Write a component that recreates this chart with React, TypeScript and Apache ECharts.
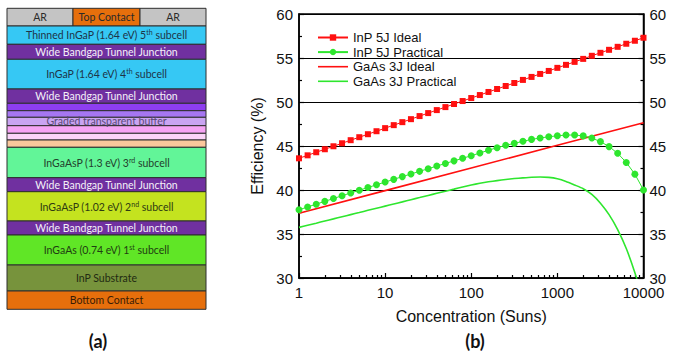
import React, { useEffect, useRef } from 'react';
import * as echarts from 'echarts';

// ---------- Data (panel b) ----------
const concentration = [
  1, 1.259, 1.585, 1.995, 2.512, 3.162, 3.981, 5.012, 6.31, 7.943,
  10, 12.59, 15.85, 19.95, 25.12, 31.62, 39.81, 50.12, 63.1, 79.43,
  100, 125.9, 158.5, 199.5, 251.2, 316.2, 398.1, 501.2, 631, 794.3,
  1000, 1259, 1585, 1995, 2512, 3162, 3981, 5012, 6310, 7943, 10000,
];
const inpIdeal = [
  43.6, 43.94, 44.29, 44.63, 44.97, 45.31, 45.66, 46.0, 46.34, 46.68,
  47.03, 47.37, 47.71, 48.05, 48.4, 48.74, 49.08, 49.42, 49.77, 50.11,
  50.45, 50.79, 51.14, 51.48, 51.82, 52.16, 52.51, 52.85, 53.19, 53.53,
  53.88, 54.22, 54.56, 54.9, 55.25, 55.59, 55.93, 56.27, 56.62, 56.96, 57.3,
];
const inpPractical = [
  37.75, 38.07, 38.39, 38.71, 39.03, 39.35, 39.66, 39.97, 40.28, 40.59,
  40.9, 41.21, 41.52, 41.82, 42.12, 42.42, 42.72, 43.02, 43.31, 43.6,
  43.9, 44.2, 44.52, 44.81, 45.08, 45.3, 45.53, 45.75, 45.91, 46.05,
  46.16, 46.24, 46.25, 46.15, 45.9, 45.5, 44.93, 44.17, 43.13, 41.8, 40.0,
];
const gaasIdealX = [1, 10, 100, 1000, 10000];
const gaasIdeal = [37.35, 39.93, 42.5, 45.08, 47.65];
const gaasPractical = [
  35.75, 35.99, 36.23, 36.48, 36.72, 36.96, 37.2, 37.44, 37.69, 37.93,
  38.17, 38.41, 38.65, 38.9, 39.14, 39.38, 39.62, 39.86, 40.1, 40.35,
  40.57, 40.76, 40.93, 41.07, 41.2, 41.3, 41.38, 41.45, 41.48, 41.43,
  41.27, 40.97, 40.57, 40.15, 39.5, 38.5, 37.2, 35.5, 33.35, 30.6, 27.4,
];
const seriesNames = ['InP 5J Ideal', 'InP 5J Practical', 'GaAs 3J Ideal', 'GaAs 3J Practical'];
const decades = [1, 10, 100, 1000];
const minorMultipliers = [2, 3, 4, 5, 6, 7, 8, 9];

// ---------- Labels (panel a) ----------
const arRowLabels = ['AR', 'Top Contact', 'AR'];
const layerTexts = [
  ['Thinned InGaP (1.64 eV) 5', 'th', ' subcell'],
  ['Wide Bandgap Tunnel Junction'],
  ['InGaP (1.64 eV) 4', 'th', ' subcell'],
  ['Wide Bandgap Tunnel Junction'],
  [''], [''], [''], [''], [''], [''],
  ['InGaAsP (1.3 eV) 3', 'rd', ' subcell'],
  ['Wide Bandgap Tunnel Junction'],
  ['InGaAsP (1.02 eV) 2', 'nd', ' subcell'],
  ['Wide Bandgap Tunnel Junction'],
  ['InGaAs (0.74 eV) 1', 'st', ' subcell'],
  ['InP Substrate'],
  ['Bottom Contact'],
];
const bufferLabel = 'Graded transparent buffer';
const panelLabels = ['(a)', '(b)'];

// layout / styles for panel a (not data)
const PURPLE = '#7030a0';
const CYAN = '#36c8f4';
const layerLayout = [
  { y0: 26, y1: 44.3, fill: CYAN, color: '#1e3448' },
  { y0: 44.3, y1: 59.3, fill: PURPLE, color: '#f4f0f8' },
  { y0: 59.3, y1: 89, fill: CYAN, color: '#1e3448' },
  { y0: 89, y1: 103.3, fill: PURPLE, color: '#f4f0f8' },
  { y0: 103.3, y1: 110.7, fill: '#8e3ef0', color: '#333' },
  { y0: 110.7, y1: 117.3, fill: '#a676f2', color: '#333' },
  { y0: 117.3, y1: 125.7, fill: '#caa4f2', color: '#333' },
  { y0: 125.7, y1: 133.3, fill: '#f6a4f4', color: '#333' },
  { y0: 133.3, y1: 140, fill: '#fbd4f8', color: '#333' },
  { y0: 140, y1: 147.3, fill: '#fbc89c', color: '#333' },
  { y0: 147.3, y1: 177.7, fill: '#62f598', color: '#23402c' },
  { y0: 177.7, y1: 191.7, fill: PURPLE, color: '#f4f0f8' },
  { y0: 191.7, y1: 221, fill: '#c4e31f', color: '#2e3a12' },
  { y0: 221, y1: 235, fill: PURPLE, color: '#f4f0f8' },
  { y0: 235, y1: 265, fill: '#60e626', color: '#1f3d12' },
  { y0: 265, y1: 291, fill: '#77933c', color: '#222a12' },
  { y0: 291, y1: 309.3, fill: '#e66f0c', color: '#3a1c05' },
];

const BOX_L = 7;
const BOX_R = 206;
const PANEL_FONT = 'Lato, "Open Sans", sans-serif';

function buildPanelA(): any[] {
  const els: any[] = [];
  const cx = (BOX_L + BOX_R) / 2;
  const stroke = '#2e2e2e';
  const arCells = [
    { x0: BOX_L, x1: 73, fill: '#c4c4c4' },
    { x0: 73, x1: 140, fill: '#e66f0c' },
    { x0: 140, x1: BOX_R, fill: '#c4c4c4' },
  ];
  arCells.forEach((c, i) => {
    els.push({
      type: 'rect', z: 10,
      shape: { x: c.x0, y: 8.3, width: c.x1 - c.x0, height: 26 - 8.3 },
      style: { fill: c.fill, stroke, lineWidth: 1 },
    });
    els.push({
      type: 'text', z: 12,
      style: {
        text: arRowLabels[i], x: (c.x0 + c.x1) / 2, y: 17.4,
        align: 'center', verticalAlign: 'middle', textAlign: 'center', textVerticalAlign: 'middle',
        fill: '#2a2a2a', fontSize: 10.5, fontFamily: PANEL_FONT,
      },
    });
  });
  layerLayout.forEach((l, i) => {
    els.push({
      type: 'rect', z: 10,
      shape: { x: BOX_L, y: l.y0, width: BOX_R - BOX_L, height: l.y1 - l.y0 },
      style: { fill: l.fill, stroke, lineWidth: 1 },
    });
    const t = layerTexts[i];
    if (!t[0]) return;
    let text: string;
    if (t.length === 3) text = `{a|${t[0]}}{s|${t[1]}}{a|${t[2]}}`;
    else text = `{a|${t[0]}}`;
    els.push({
      type: 'text', z: 12,
      style: {
        text, x: cx, y: (l.y0 + l.y1) / 2 + 0.3,
        align: 'center', verticalAlign: 'middle', textAlign: 'center', textVerticalAlign: 'middle',
        fill: l.color, fontSize: 10.5, fontFamily: PANEL_FONT,
        rich: {
          a: { fill: l.color, fontSize: 10.5, fontFamily: PANEL_FONT, lineHeight: 13 },
          s: { fill: l.color, fontSize: 7, fontFamily: PANEL_FONT, lineHeight: 8, verticalAlign: 'top' },
        },
      },
    });
  });
  els.push({
    type: 'text', z: 12,
    style: {
      text: bufferLabel, x: cx, y: 120.8,
      align: 'center', verticalAlign: 'middle', textAlign: 'center', textVerticalAlign: 'middle',
      fill: '#5a4a78', fontSize: 10.5, fontFamily: PANEL_FONT,
    },
  });
  els.push({
    type: 'text', z: 12,
    style: {
      text: panelLabels[0], x: 98, y: 340.5,
      align: 'center', verticalAlign: 'middle', textAlign: 'center', textVerticalAlign: 'middle',
      fill: '#111', fontSize: 18, fontWeight: 'bold', fontFamily: PANEL_FONT,
    },
  });
  els.push({
    type: 'text', z: 12,
    style: {
      text: panelLabels[1], x: 475, y: 340.5,
      align: 'center', verticalAlign: 'middle', textAlign: 'center', textVerticalAlign: 'middle',
      fill: '#111', fontSize: 18, fontWeight: 'bold', fontFamily: PANEL_FONT,
    },
  });
  return els;
}

const RED = '#ff1010';
const GREEN = '#2ee62e';
const AXIS_FONT = '"Liberation Sans", Arial, sans-serif';
const LINE_ICON = 'path://M0,0 L30,0 L30,1.6 L0,1.6 Z';

export default function App() {
  const ref = useRef<HTMLDivElement>(null);
  useEffect(() => {
    if (!ref.current) return;
    const chart = echarts.init(ref.current, undefined, { renderer: 'svg' });
    const minorLogPositions: number[] = [];
    decades.forEach((d) => minorMultipliers.forEach((m) => minorLogPositions.push(Math.log10(m * d))));
    const axisLineStyle = { color: '#000', width: 1.5 };
    const tickStyle = { color: '#000', width: 1.2 };
    const yBase = (pos: 'left' | 'right') => ({
      type: 'value', min: 30, max: 60, interval: 5, position: pos,
      axisLine: { show: true, onZero: false, lineStyle: axisLineStyle },
      axisTick: { show: true, inside: true, length: 5, lineStyle: tickStyle },
      minorTick: { show: true, splitNumber: 2, length: 3, lineStyle: tickStyle },
      axisLabel: { fontSize: 15, color: '#111', margin: 6, fontFamily: AXIS_FONT },
    });
    const option: any = {
      animation: false,
      backgroundColor: '#ffffff',
      textStyle: { fontFamily: AXIS_FONT },
      grid: {
        left: 299, right: 37.5, top: 14, bottom: 75,
        show: true, borderColor: '#000', borderWidth: 1.5, backgroundColor: 'transparent',
      },
      legend: {
        orient: 'vertical', left: 312, top: 26,
        itemWidth: 30, itemHeight: 8, itemGap: 1.6,
        selectedMode: false,
        textStyle: { fontSize: 13, color: '#111', lineHeight: 13, fontFamily: AXIS_FONT },
        data: [
          { name: seriesNames[0] },
          { name: seriesNames[1] },
          { name: seriesNames[2], icon: LINE_ICON },
          { name: seriesNames[3], icon: LINE_ICON },
        ],
      },
      xAxis: [
        {
          type: 'log', logBase: 10, min: 1, max: 10000, position: 'bottom',
          name: 'Concentration (Suns)', nameLocation: 'middle', nameGap: 30,
          nameTextStyle: { fontSize: 16, color: '#111', fontFamily: AXIS_FONT },
          axisLine: { show: true, onZero: false, lineStyle: axisLineStyle },
          axisTick: { show: true, inside: true, length: 5, lineStyle: tickStyle },
          axisLabel: {
            fontSize: 15, color: '#111', margin: 7, fontFamily: AXIS_FONT,
            formatter: (v: number) => String(Math.round(v)),
          },
          splitLine: { show: false },
        },
        {
          type: 'value', min: 0, max: 4, position: 'bottom',
          axisLine: { show: false, onZero: false },
          axisLabel: { show: false },
          splitLine: { show: false },
          axisTick: { show: true, inside: true, length: 3, lineStyle: tickStyle, customValues: minorLogPositions },
        },
      ],
      yAxis: [
        {
          ...yBase('left'),
          name: 'Efficiency (%)', nameLocation: 'middle', nameGap: 32,
          nameTextStyle: { fontSize: 16, color: '#111', fontFamily: AXIS_FONT },
          splitLine: { show: true, lineStyle: { color: '#000', width: 1 } },
        },
        {
          ...yBase('right'),
          splitLine: { show: false },
        },
      ],
      series: [
        {
          name: seriesNames[0], type: 'line', xAxisIndex: 0, yAxisIndex: 0, z: 5,
          data: concentration.map((c, i) => [c, inpIdeal[i]]),
          symbol: 'rect', symbolSize: 6, showSymbol: true,
          lineStyle: { color: RED, width: 1 }, itemStyle: { color: RED },
        },
        {
          name: seriesNames[1], type: 'line', xAxisIndex: 0, yAxisIndex: 0, z: 5,
          data: concentration.map((c, i) => [c, inpPractical[i]]),
          symbol: 'circle', symbolSize: 7, showSymbol: true,
          lineStyle: { color: GREEN, width: 1 }, itemStyle: { color: GREEN },
        },
        {
          name: seriesNames[2], type: 'line', xAxisIndex: 0, yAxisIndex: 0, z: 4,
          data: gaasIdealX.map((c, i) => [c, gaasIdeal[i]]),
          symbol: 'none', showSymbol: false,
          lineStyle: { color: RED, width: 1.6 }, itemStyle: { color: RED },
        },
        {
          name: seriesNames[3], type: 'line', xAxisIndex: 0, yAxisIndex: 0, z: 4,
          data: concentration.map((c, i) => [c, gaasPractical[i]]),
          symbol: 'none', showSymbol: false, smooth: 0.2, clip: true,
          lineStyle: { color: GREEN, width: 1.6 }, itemStyle: { color: GREEN },
        },
      ],
      graphic: buildPanelA(),
    };
    chart.setOption(option);
    return () => chart.dispose();
  }, []);
  return (
    <div
      ref={ref}
      style={{ position: 'absolute', left: 0, top: 0, width: 681, height: 353, background: '#fff' }}
    />
  );
}
